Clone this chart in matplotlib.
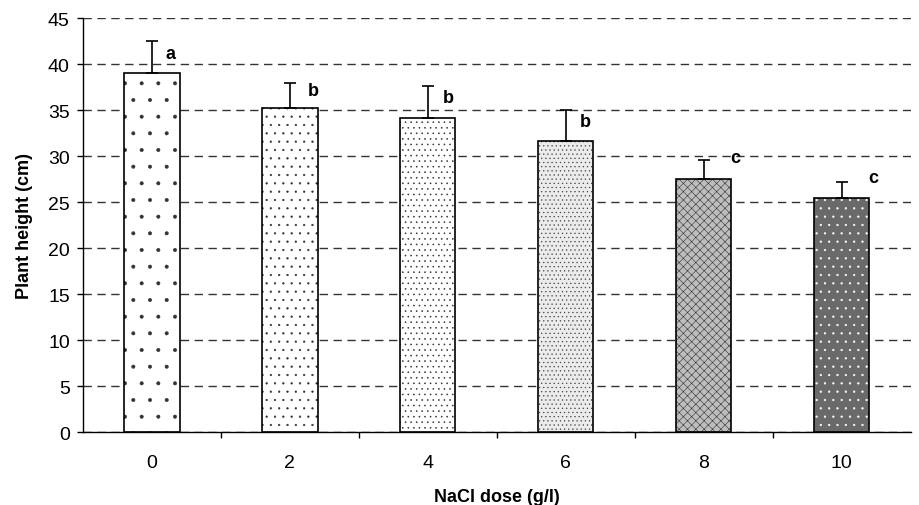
import numpy as np
import matplotlib.pyplot as plt

# NaCl doses and measured plant heights
doses = ['0', '2', '4', '6', '8', '10']
height = [39.0, 35.2, 34.2, 31.6, 27.5, 25.5]
err = [3.5, 2.8, 3.4, 3.4, 2.1, 1.7]
letters = ['a', 'b', 'b', 'b', 'c', 'c']

hatches = ['.', '..', '...', '....', 'xxxx', '..']
faces = ['white', 'white', 'white', '#ebebeb', '#bdbdbd', '#6a6a6a']
hatch_cols = ['#333333', '#333333', '#333333', '#444444', '#333333', 'white']
# hand placed letter offsets (x, y) from the error bar top, as in the original
let_dx = [0.095, 0.13, 0.11, 0.10, 0.19, 0.19]
let_dy = [-1.85, -1.4, -1.75, -1.75, -0.2, 0.0]

plt.rcParams['font.family'] = ['Liberation Sans', 'DejaVu Sans']
plt.rcParams['hatch.linewidth'] = 0.4

fig = plt.figure(figsize=(9.19, 5.06), dpi=100)
ax = fig.add_axes([0.0903, 0.144, 0.9007, 0.818])

x = np.arange(len(doses))
w = 0.4
for i in range(len(doses)):
    # fill + hatch
    ax.bar(x[i], height[i], w, color=faces[i], hatch=hatches[i],
           edgecolor=hatch_cols[i], linewidth=0, zorder=2)
    # outline
    ax.bar(x[i], height[i], w, fill=False, edgecolor='black', linewidth=1.2, zorder=3)

ax.errorbar(x, height, yerr=[np.zeros(len(err)), err], fmt='none', ecolor='black',
            elinewidth=1.2, capsize=4.3, capthick=1.2, zorder=4)

for i in range(len(doses)):
    ax.text(x[i] + let_dx[i], height[i] + err[i] + let_dy[i], letters[i], fontsize=13,
            fontweight='bold', ha='left', va='baseline')

ax.set_xlim(-0.5, len(doses) - 0.5)
ax.set_ylim(0, 45)
ax.set_yticks(np.arange(0, 46, 5))
ax.set_xticks(x)
ax.set_xticklabels(doses)
ax.set_xticks(np.arange(0.5, len(doses) - 0.5, 1), minor=True)
ax.tick_params(axis='x', which='major', length=0, pad=16, labelsize=14)
ax.tick_params(axis='x', which='minor', length=4.5, width=1, direction='out')
ax.tick_params(axis='y', length=4.5, width=1, direction='out', labelsize=14, pad=5)

ax.yaxis.grid(True, linestyle=(0, (6, 4)), color='#333333', linewidth=1.0)
ax.set_axisbelow(True)
for s in ['top', 'right']:
    ax.spines[s].set_visible(False)
ax.spines['left'].set_linewidth(1)
ax.spines['bottom'].set_linewidth(1)

ax.set_ylabel('Plant height (cm)', fontsize=13, fontweight='bold', labelpad=11)
ax.set_xlabel('NaCl dose (g/l)', fontsize=13, fontweight='bold', labelpad=12)

fig.savefig('out.png', dpi=100)
